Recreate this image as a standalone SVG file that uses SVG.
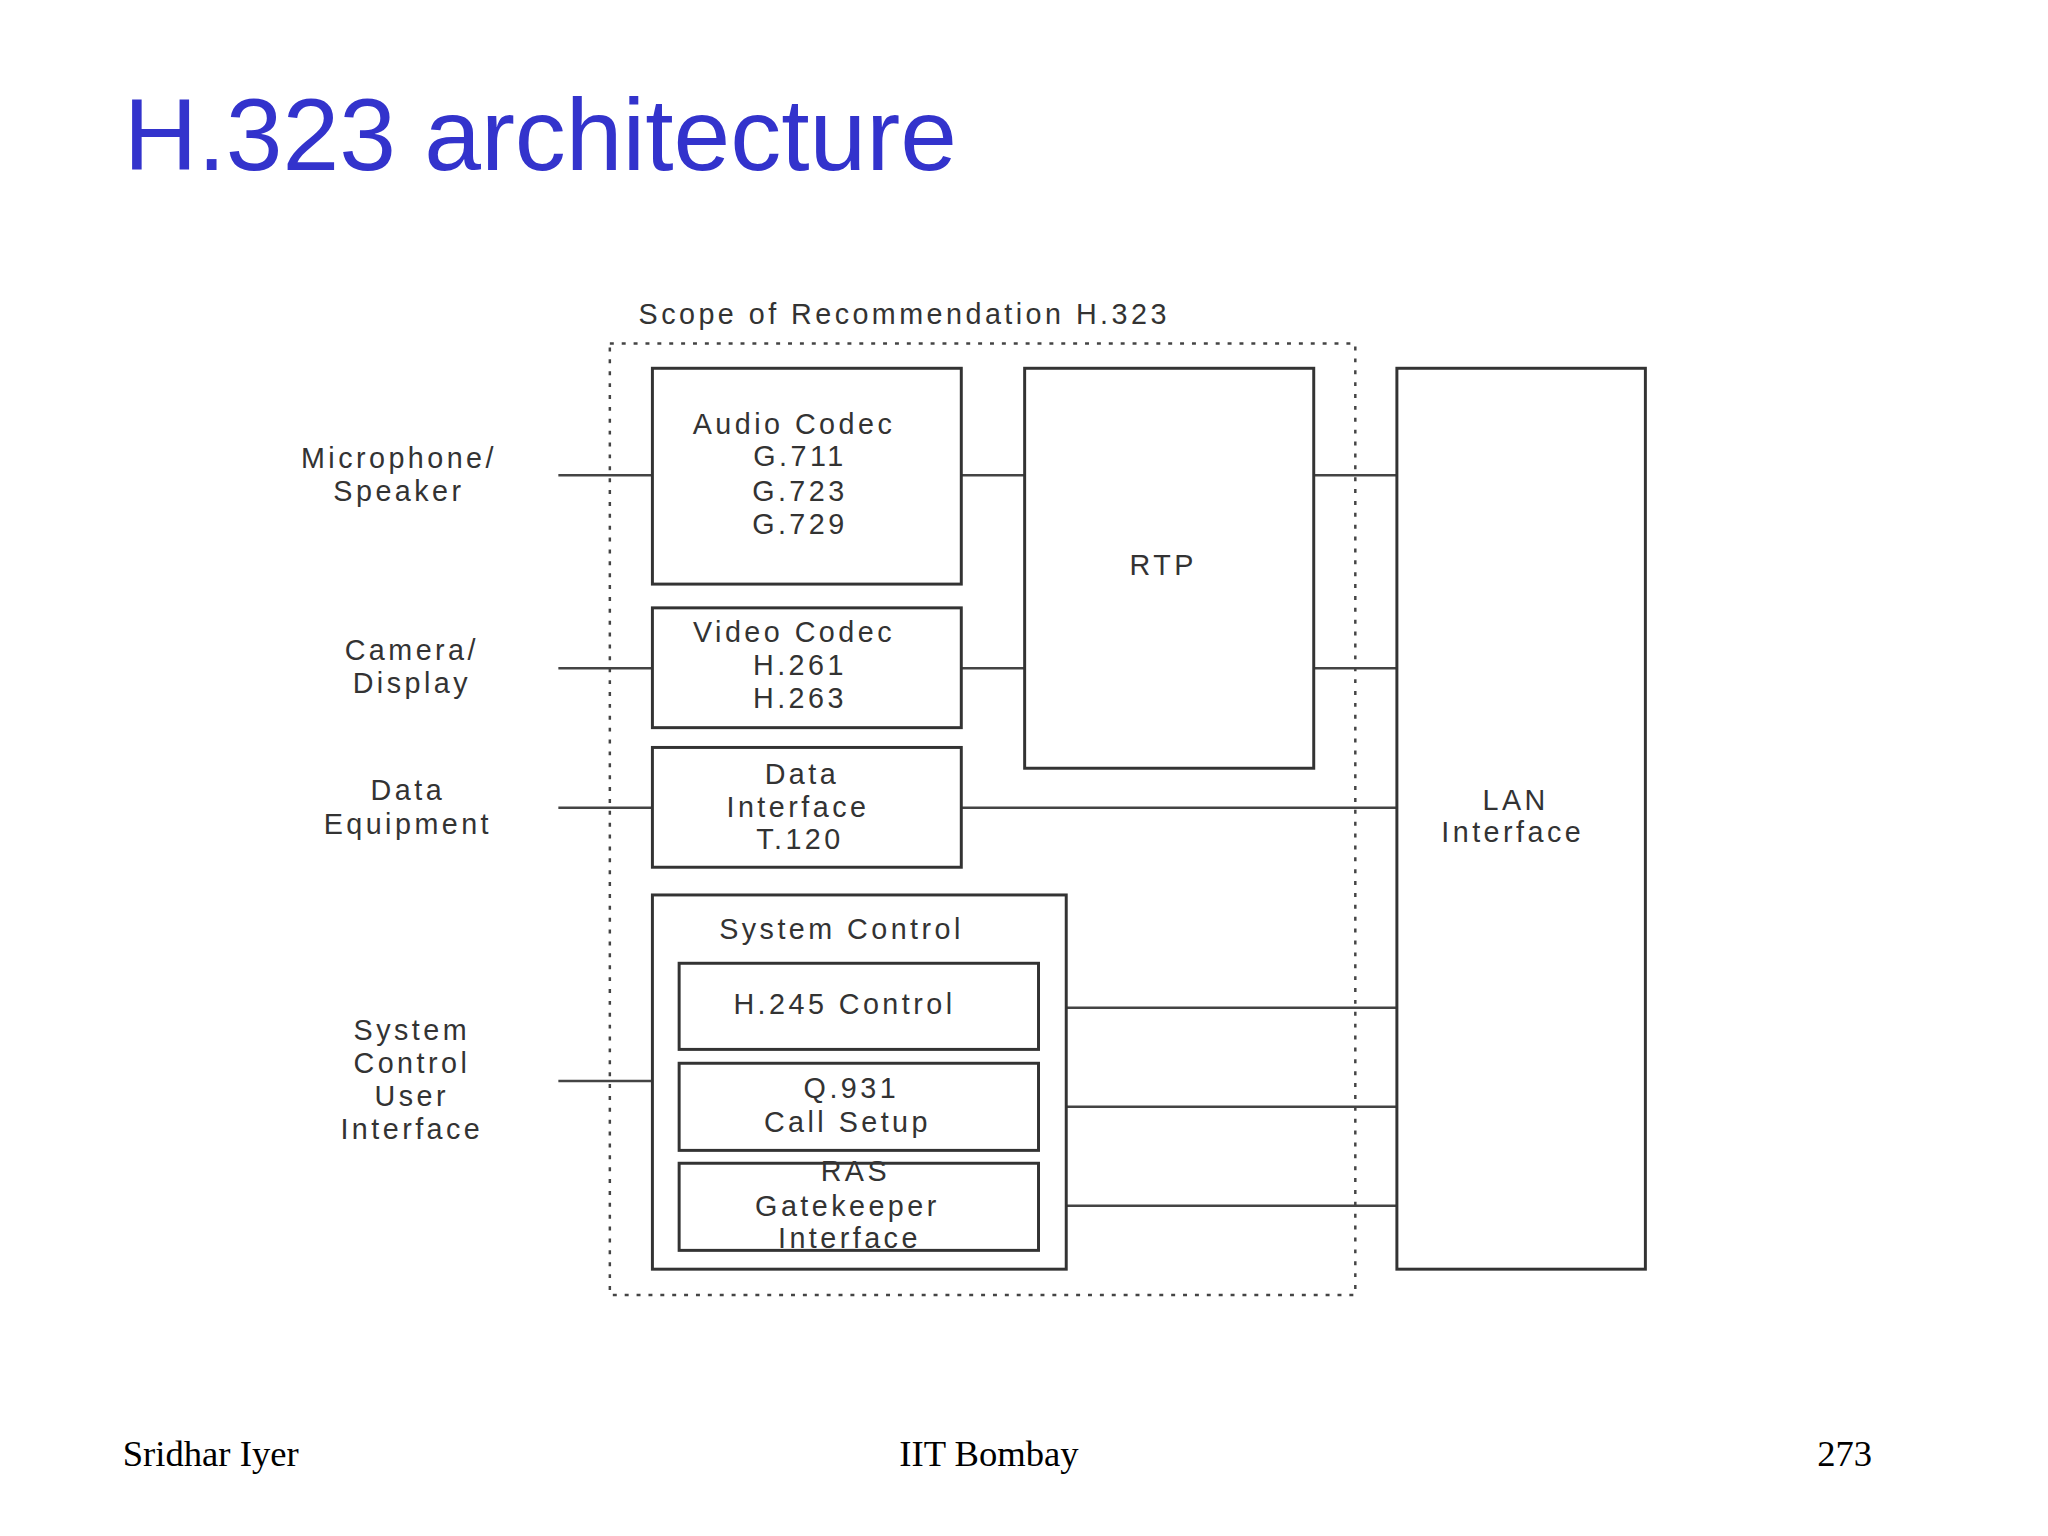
<svg xmlns="http://www.w3.org/2000/svg" width="2048" height="1536" viewBox="0 0 2048 1536">
<style>
.b{fill:#fff;stroke:#333;stroke-width:3}
.l{stroke:#444;stroke-width:2.5;fill:none}
.t{font-family:"Liberation Sans",Arial,sans-serif;font-size:29px;fill:#333;text-anchor:middle;letter-spacing:3.5px}
.f{font-family:"Liberation Serif","Times New Roman",serif;font-size:37px;fill:#000}
</style>
<rect width="2048" height="1536" fill="#fff"/>
<g transform="scale(0.99)">
<text x="125" y="172" font-family="Liberation Sans,Arial,sans-serif" font-size="103" fill="#3333cc">H.323 architecture</text>
<text x="645" y="327" class="t" style="text-anchor:start">Scope of Recommendation H.323</text>
<rect x="616" y="347" width="753" height="961" fill="none" stroke="#444" stroke-width="2.5" stroke-dasharray="4,8"/>
<g id="connectors">
<path class="l" d="M564 480H659M564 675H659M564 816H659M564 1092H659M971 480H1035M1327 480H1411M971 675H1035M1327 675H1411M971 816H1411M1049 1018H1411M1049 1118H1411M1049 1218H1411"/>
</g>
<g id="labels">
<text class="t" x="403" y="473">Microphone/</text><text class="t" x="403" y="506">Speaker</text>
<text class="t" x="416" y="667">Camera/</text><text class="t" x="416" y="700">Display</text>
<text class="t" x="412" y="808">Data</text><text class="t" x="412" y="842">Equipment</text>
<text class="t" x="416" y="1051">System</text><text class="t" x="416" y="1084">Control</text><text class="t" x="416" y="1117">User</text><text class="t" x="416" y="1151">Interface</text>
</g>
<g id="audio"><rect class="b" x="659" y="372" width="312" height="218"/>
<text class="t" x="802" y="438">Audio Codec</text><text class="t" x="808" y="471">G.711</text><text class="t" x="808" y="506">G.723</text><text class="t" x="808" y="539">G.729</text></g>
<g id="rtp"><rect class="b" x="1035" y="372" width="292" height="404"/><text class="t" x="1175" y="581">RTP</text></g>
<g id="lan"><rect class="b" x="1411" y="372" width="251" height="910"/><text class="t" x="1531" y="818">LAN</text><text class="t" x="1528" y="851">Interface</text></g>
<g id="video"><rect class="b" x="659" y="614" width="312" height="121"/>
<text class="t" x="802" y="649">Video Codec</text><text class="t" x="808" y="682">H.261</text><text class="t" x="808" y="715">H.263</text></g>
<g id="data"><rect class="b" x="659" y="755" width="312" height="121"/>
<text class="t" x="810" y="792">Data</text><text class="t" x="806" y="825">Interface</text><text class="t" x="808" y="858">T.120</text></g>
<g id="sysctl"><rect class="b" x="659" y="904" width="418" height="378"/><text class="t" x="850" y="949">System Control</text></g>
<g id="h245"><rect class="b" x="686" y="973" width="363" height="87"/><text class="t" x="853" y="1024">H.245 Control</text></g>
<g id="q931"><rect class="b" x="686" y="1074" width="363" height="88"/><text class="t" x="860" y="1109">Q.931</text><text class="t" x="856" y="1143">Call Setup</text></g>
<g id="ras"><rect class="b" x="686" y="1175" width="363" height="88"/><text class="t" x="864" y="1193">RAS</text><text class="t" x="856" y="1228">Gatekeeper</text><text class="t" x="858" y="1261">Interface</text></g>
<text class="f" x="124" y="1481">Sridhar Iyer</text>
<text class="f" x="999" y="1481" text-anchor="middle">IIT Bombay</text>
<text class="f" x="1891" y="1481" text-anchor="end">273</text>
</g>
</svg>
